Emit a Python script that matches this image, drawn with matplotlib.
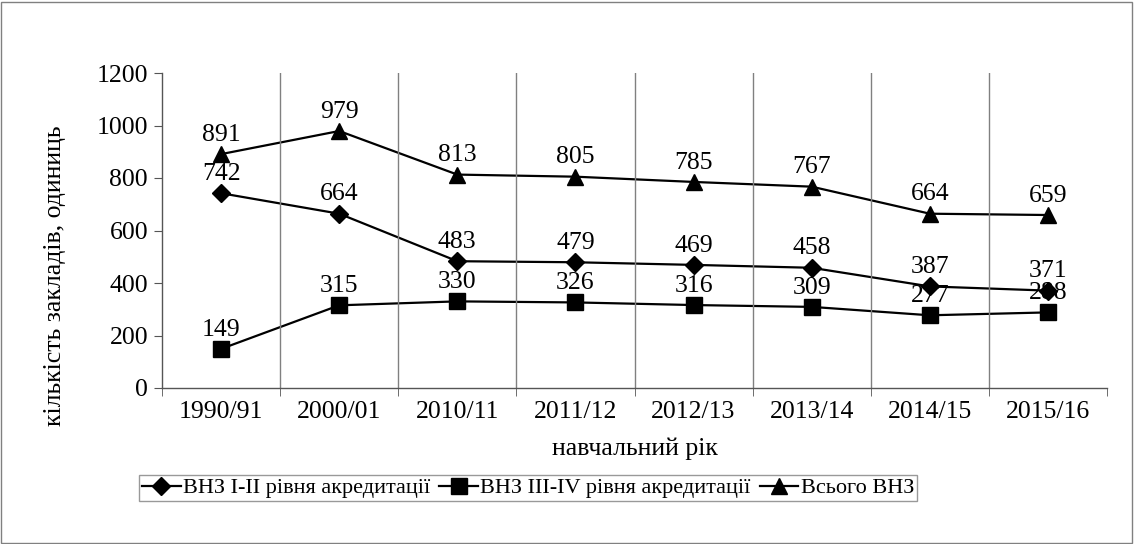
import numpy as np
import matplotlib.pyplot as plt
from matplotlib.patches import Rectangle

years = ["1990/91", "2000/01", "2010/11", "2011/12", "2012/13", "2013/14", "2014/15", "2015/16"]
vnz_1_2 = [742, 664, 483, 479, 469, 458, 387, 371]
vnz_3_4 = [149, 315, 330, 326, 316, 309, 277, 288]
vnz_all = [891, 979, 813, 805, 785, 767, 664, 659]

plt.rcParams['font.family'] = ['Liberation Serif', 'DejaVu Serif']
fs = 18.5

fig = plt.figure(figsize=(11.34, 5.44), dpi=100)
ax = fig.add_axes([162/1134, 1-388/544, (1107-162)/1134, (388-73)/544])

x = np.arange(len(years))
series = [
    (vnz_1_2, "D", 9.5, "ВНЗ I-II рівня акредитації"),
    (vnz_3_4, "s", 11, "ВНЗ III-IV рівня акредитації"),
    (vnz_all, "^", 11, "Всього ВНЗ"),
]
for vals, m, ms, lab in series:
    ax.plot(x, vals, color="black", lw=1.6, marker=m, markersize=ms, label=lab)
    for xi, v in zip(x, vals):
        ax.annotate(str(v), (xi, v), xytext=(0, 6), textcoords="offset points",
                    ha="center", va="bottom", fontsize=fs)

ax.set_xlim(-0.5, len(years)-0.5)
ax.set_ylim(0, 1200)
ax.set_yticks(range(0, 1201, 200))
ax.set_xticks(x)
ax.set_xticklabels(years, fontsize=fs)
ax.set_xticks(np.arange(-0.5, len(years)), minor=True)
ax.tick_params(axis="x", which="major", length=0, pad=9)
ax.tick_params(axis="x", which="minor", length=6, direction="out", color="#555555")
ax.tick_params(axis="y", labelsize=fs, length=6, direction="out", color="#555555", pad=4)
for xb in np.arange(0.5, len(years)-1):
    ax.axvline(xb, color="#808080", lw=1)
for s in ["top", "right"]:
    ax.spines[s].set_visible(False)
for s in ["left", "bottom"]:
    ax.spines[s].set_color("#555555")
    ax.spines[s].set_linewidth(1)

ax.set_xlabel("навчальний рік", fontsize=fs, labelpad=11)
ax.set_ylabel("кількість закладів, одиниць", fontsize=fs, va="center")
ax.yaxis.set_label_coords(-(162-55)/945, (388-276)/315)

leg = fig.legend(loc="center", bbox_to_anchor=(528/1134, 1-488/544), ncol=3,
                 fontsize=16, frameon=True, fancybox=False, handlelength=1.75,
                 columnspacing=0.4, handletextpad=0.1, borderpad=0.12, borderaxespad=0)
leg.get_frame().set_edgecolor("#808080")
leg.get_frame().set_linewidth(1)

fig.patches.append(Rectangle((0.001, 0.002), 0.997, 0.995, transform=fig.transFigure,
                             fill=False, edgecolor="#808080", lw=1))

plt.savefig("out.png", dpi=100)
